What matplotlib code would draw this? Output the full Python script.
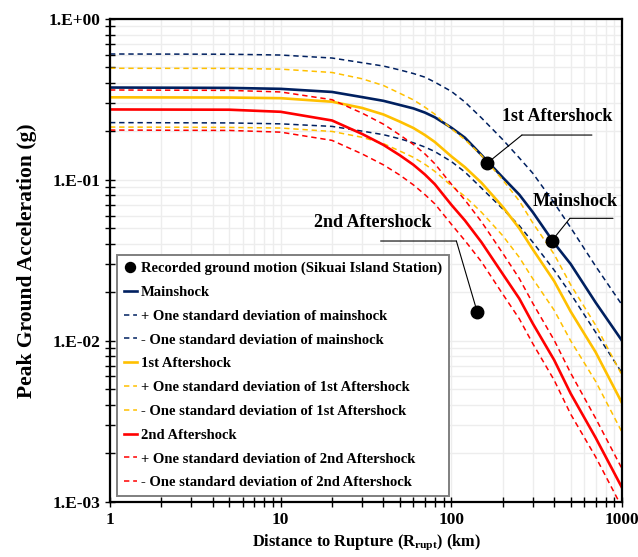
import math
import matplotlib
matplotlib.use('Agg')
import matplotlib.pyplot as plt
from matplotlib.ticker import FuncFormatter, LogLocator, NullFormatter

plt.rcParams['font.family'] = ['Liberation Serif', 'DejaVu Serif']
plt.rcParams['font.weight'] = 'bold'
plt.rcParams['axes.labelweight'] = 'bold'
plt.rcParams['mathtext.fontset'] = 'custom'
plt.rcParams['mathtext.rm'] = 'Liberation Serif:bold'
plt.rcParams['mathtext.bf'] = 'Liberation Serif:bold'

# distance to rupture (km)
dist = [1, 5, 10, 20, 30, 40, 50, 60, 70, 80, 100, 120, 150, 200, 250, 300, 400, 500, 700, 1000]

# PGA (g)
main_med = [0.375, 0.373, 0.368, 0.352, 0.327, 0.310, 0.292, 0.278, 0.262, 0.245, 0.211, 0.183, 0.143, 0.1035, 0.081, 0.063, 0.0405, 0.030, 0.0173, 0.0100]
main_plus = [0.606, 0.604, 0.597, 0.572, 0.535, 0.510, 0.482, 0.458, 0.435, 0.405, 0.355, 0.305, 0.243, 0.178, 0.137, 0.110, 0.072, 0.0505, 0.0291, 0.0167]
main_minus = [0.227, 0.226, 0.223, 0.215, 0.201, 0.191, 0.180, 0.170, 0.160, 0.150, 0.130, 0.112, 0.089, 0.066, 0.052, 0.041, 0.0275, 0.0196, 0.0113, 0.0063]

as1_med = [0.326, 0.325, 0.322, 0.306, 0.280, 0.255, 0.230, 0.210, 0.190, 0.172, 0.140, 0.120, 0.096, 0.068, 0.050, 0.037, 0.0235, 0.0152, 0.0085, 0.0041]
as1_plus = [0.494, 0.493, 0.488, 0.465, 0.425, 0.386, 0.345, 0.314, 0.283, 0.256, 0.208, 0.178, 0.142, 0.100, 0.074, 0.054, 0.0345, 0.0223, 0.0125, 0.0061]
as1_minus = [0.213, 0.212, 0.210, 0.200, 0.184, 0.168, 0.151, 0.138, 0.125, 0.113, 0.092, 0.079, 0.063, 0.045, 0.033, 0.0243, 0.0155, 0.0100, 0.0056, 0.0027]

as2_med = [0.274, 0.273, 0.265, 0.234, 0.193, 0.165, 0.142, 0.124, 0.108, 0.094, 0.070, 0.056, 0.041, 0.026, 0.0183, 0.0128, 0.0076, 0.0047, 0.0025, 0.00122]
as2_plus = [0.362, 0.360, 0.352, 0.315, 0.260, 0.222, 0.190, 0.166, 0.145, 0.126, 0.094, 0.075, 0.055, 0.035, 0.0244, 0.0171, 0.0101, 0.0063, 0.0033, 0.0016]
as2_minus = [0.204, 0.203, 0.198, 0.176, 0.145, 0.124, 0.107, 0.093, 0.081, 0.071, 0.053, 0.042, 0.031, 0.0195, 0.0137, 0.0096, 0.0057, 0.0035, 0.0019, 0.00092]

# recorded ground motion at Sikuai Island station: mainshock, 1st, 2nd aftershock
rec_dist = [387, 162, 142]
rec_pga = [0.0417, 0.127, 0.0150]

navy = '#002060'
gold = '#FFC000'
red = '#FF0000'

fig = plt.figure(figsize=(6.38, 5.57), dpi=100)
ax = fig.add_axes([0.1724, 0.0993, 0.8026, 0.8666])

dash = (0, (3.5, 2.5))
ax.plot(dist, main_med, color=navy, lw=1.9, label='Mainshock')
ax.plot(dist, main_plus, color=navy, lw=1.1, ls=dash, label='+ One standard deviation of mainshock')
ax.plot(dist, main_minus, color=navy, lw=1.1, ls=dash, label='- One standard deviation of mainshock')
ax.plot(dist, as1_med, color=gold, lw=1.9, label='1st Aftershock')
ax.plot(dist, as1_plus, color=gold, lw=1.1, ls=dash, label='+ One standard deviation of 1st Aftershock')
ax.plot(dist, as1_minus, color=gold, lw=1.1, ls=dash, label='- One standard deviation of 1st Aftershock')
ax.plot(dist, as2_med, color=red, lw=1.9, label='2nd Aftershock')
ax.plot(dist, as2_plus, color=red, lw=1.1, ls=dash, label='+ One standard deviation of 2nd Aftershock')
ax.plot(dist, as2_minus, color=red, lw=1.1, ls=dash, label='- One standard deviation of 2nd Aftershock')
ax.plot(rec_dist, rec_pga, 'o', color='black', ms=9, zorder=5,
        label='Recorded ground motion (Sikuai Island Station)')

ax.set_xscale('log')
ax.set_yscale('log')
ax.set_xlim(1, 1000)
ax.set_ylim(1e-3, 1)

ax.xaxis.set_major_formatter(FuncFormatter(lambda v, p: '%d' % round(v)))
ax.yaxis.set_major_formatter(FuncFormatter(lambda v, p: '1.E%+03d' % round(math.log10(v))))
ax.xaxis.set_minor_locator(LogLocator(base=10, subs=range(2, 10)))
ax.yaxis.set_minor_locator(LogLocator(base=10, subs=range(2, 10)))
ax.xaxis.set_minor_formatter(NullFormatter())
ax.yaxis.set_minor_formatter(NullFormatter())
ax.tick_params(which='both', direction='inout', length=7, width=1.0, labelsize=12.5)
ax.tick_params(axis='x', pad=4)
ax.grid(True, which='both', color='#ededed', lw=1.0)
ax.set_axisbelow(True)
for s in ax.spines.values():
    s.set_linewidth(1.6)

ax.set_xlabel('Distance to Rupture (R$_{\\mathbf{rupt}}$) (km)', fontsize=11.8, labelpad=3)
ax.set_ylabel('Peak Ground Acceleration (g)', fontsize=15.5, labelpad=8)

# callouts
ax.annotate('', xy=(162, 0.127), xytext=(259, 0.190),
            arrowprops=dict(arrowstyle='-', lw=0.8, color='black', shrinkA=0, shrinkB=4))
ax.annotate('', xy=(259, 0.190), xytext=(666, 0.190),
            arrowprops=dict(arrowstyle='-', lw=0.8, color='black', shrinkA=0, shrinkB=0))
ax.text(415, 0.246, '1st Aftershock', fontsize=13, ha='center', va='center')

ax.annotate('', xy=(387, 0.0417), xytext=(495, 0.0577),
            arrowprops=dict(arrowstyle='-', lw=0.8, color='black', shrinkA=0, shrinkB=4))
ax.annotate('', xy=(495, 0.0577), xytext=(885, 0.0577),
            arrowprops=dict(arrowstyle='-', lw=0.8, color='black', shrinkA=0, shrinkB=0))
ax.text(530, 0.073, 'Mainshock', fontsize=13, ha='center', va='center')

ax.annotate('', xy=(142, 0.0150), xytext=(107, 0.0417),
            arrowprops=dict(arrowstyle='-', lw=0.8, color='black', shrinkA=0, shrinkB=5))
ax.annotate('', xy=(107, 0.0417), xytext=(38.5, 0.0417),
            arrowprops=dict(arrowstyle='-', lw=0.8, color='black', shrinkA=0, shrinkB=0))
ax.text(34.7, 0.054, '2nd Aftershock', fontsize=13, ha='center', va='center')

handles, labels = ax.get_legend_handles_labels()
order = [9, 0, 1, 2, 3, 4, 5, 6, 7, 8]
handles = [handles[i] for i in order]
labels = [labels[i] for i in order]
leg = ax.legend(handles, labels, loc='lower left', bbox_to_anchor=(0.0137, 0.0118),
                borderaxespad=0, fancybox=False, framealpha=1, edgecolor='#7f7f7f',
                fontsize=10.55, handlelength=0.9, handletextpad=0.3, labelspacing=0.72,
                borderpad=0.45, markerscale=0.8)
leg.get_frame().set_linewidth(1.4)

fig.savefig('out.png', dpi=100)
